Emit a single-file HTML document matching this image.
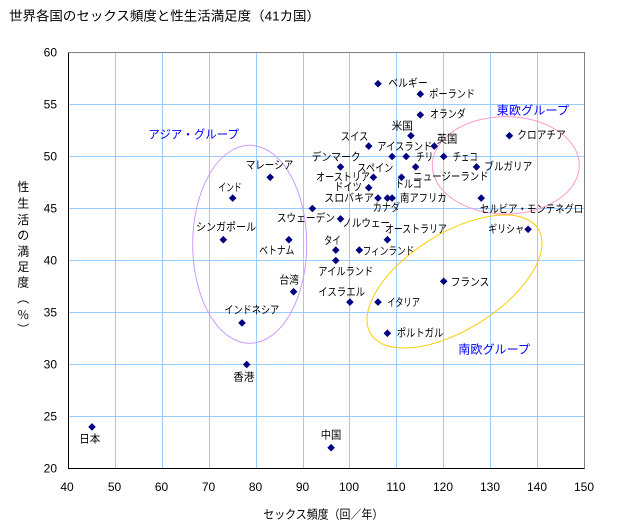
<!DOCTYPE html>
<html><head><meta charset="utf-8"><style>
html,body{margin:0;padding:0;background:#fff;}
svg{display:block;}
text{font-family:"Liberation Sans","Noto Sans CJK JP",sans-serif;fill:#000;}
.l{font-size:11px;}
.g{font-size:12px;fill:#0000FF;}
.t{font-size:12px;}
</style></head><body>
<svg width="621" height="532" viewBox="0 0 621 532" xmlns="http://www.w3.org/2000/svg">
<rect width="621" height="532" fill="#fff"/>
<!-- grid -->
<g stroke="#99CCFF" stroke-width="1" fill="none">
<path d="M115.5 52.5V468.5M162.5 52.5V468.5M209.5 52.5V468.5M256.5 52.5V468.5M303.5 52.5V468.5M349.5 52.5V468.5M396.5 52.5V468.5M443.5 52.5V468.5M490.5 52.5V468.5M537.5 52.5V468.5"/>
<path d="M68.5 104.5H584.5M68.5 156.5H584.5M68.5 208.5H584.5M68.5 260.5H584.5M68.5 312.5H584.5M68.5 364.5H584.5M68.5 416.5H584.5"/>
</g>
<path d="M68.5 52.5H584.5V468.5" stroke="#808080" fill="none"/>
<path d="M68.5 52.5V468.5H584.5" stroke="#000" fill="none"/>
<!-- ellipses -->
<ellipse cx="249.7" cy="244.3" rx="57" ry="99" fill="none" stroke="#CC99FF" stroke-width="1"/>
<ellipse cx="505.8" cy="165.3" rx="73.5" ry="48.7" fill="none" stroke="#FF99CC" stroke-width="1"/>
<ellipse cx="454.5" cy="281.5" rx="98.8" ry="48.2" transform="rotate(-32.1 454.5 281.5)" fill="none" stroke="#FFCC00" stroke-width="1"/>
<!-- title -->
<text x="9" y="20.5" style="font-size:13px" textLength="311" lengthAdjust="spacingAndGlyphs">世界各国のセックス頻度と性生活満足度（41カ国）</text>
<!-- y ticks -->
<g class="t" text-anchor="end">
<text x="57" y="56.5">60</text>
<text x="57" y="108.5">55</text>
<text x="57" y="160.5">50</text>
<text x="57" y="212.5">45</text>
<text x="57" y="264.5">40</text>
<text x="57" y="316.5">35</text>
<text x="57" y="368.5">30</text>
<text x="57" y="420.5">25</text>
<text x="57" y="472.5">20</text>
</g>
<!-- x ticks -->
<g class="t" text-anchor="middle">
<text x="67" y="491">40</text>
<text x="114.5" y="491">50</text>
<text x="161.5" y="491">60</text>
<text x="208.5" y="491">70</text>
<text x="255.5" y="491">80</text>
<text x="302.5" y="491">90</text>
<text x="349" y="491">100</text>
<text x="396" y="491">110</text>
<text x="443" y="491">120</text>
<text x="490" y="491">130</text>
<text x="537" y="491">140</text>
<text x="584" y="491">150</text>
</g>
<!-- axis titles -->
<text x="263.3" y="518.5" style="font-size:12px" textLength="120" lengthAdjust="spacingAndGlyphs">セックス頻度（回／年）</text>
<g style="font-size:12px" text-anchor="middle">
<text x="23.3" y="191">性</text>
<text x="23.3" y="207.5">生</text>
<text x="23.3" y="224">活</text>
<text x="23.3" y="239.5">の</text>
<text x="23.3" y="255.5">満</text>
<text x="23.3" y="271">足</text>
<text x="23.3" y="286.5">度</text>
<text x="23.3" y="302.5">︵</text>
<text x="23.3" y="319">％</text>
<text x="23.3" y="333.5">︶</text>
</g>
<!-- group labels -->
<text class="g" x="148.3" y="138.5" textLength="90.7" lengthAdjust="spacingAndGlyphs">アジア・グループ</text>
<text class="g" x="496.7" y="114.5" textLength="72.3" lengthAdjust="spacingAndGlyphs">東欧グループ</text>
<text class="g" x="458.3" y="353.5" textLength="71.7" lengthAdjust="spacingAndGlyphs">南欧グループ</text>
<!-- markers -->
<g fill="#000080">
<path d="M0-3.8L3.8 0 0 3.8-3.8 0z" transform="translate(92,426.9)"/>
<path d="M0-3.8L3.8 0 0 3.8-3.8 0z" transform="translate(246.7,364.5)"/>
<path d="M0-3.8L3.8 0 0 3.8-3.8 0z" transform="translate(331.1,447.7)"/>
<path d="M0-3.8L3.8 0 0 3.8-3.8 0z" transform="translate(232.7,198.1)"/>
<path d="M0-3.8L3.8 0 0 3.8-3.8 0z" transform="translate(223.3,239.7)"/>
<path d="M0-3.8L3.8 0 0 3.8-3.8 0z" transform="translate(288.9,239.7)"/>
<path d="M0-3.8L3.8 0 0 3.8-3.8 0z" transform="translate(293.6,291.7)"/>
<path d="M0-3.8L3.8 0 0 3.8-3.8 0z" transform="translate(242,322.9)"/>
<path d="M0-3.8L3.8 0 0 3.8-3.8 0z" transform="translate(270.2,177.3)"/>
<path d="M0-3.8L3.8 0 0 3.8-3.8 0z" transform="translate(312.4,208.5)"/>
<path d="M0-3.8L3.8 0 0 3.8-3.8 0z" transform="translate(378,83.7)"/>
<path d="M0-3.8L3.8 0 0 3.8-3.8 0z" transform="translate(420.3,94.1)"/>
<path d="M0-3.8L3.8 0 0 3.8-3.8 0z" transform="translate(420.3,114.9)"/>
<path d="M0-3.8L3.8 0 0 3.8-3.8 0z" transform="translate(410.9,135.7)"/>
<path d="M0-3.8L3.8 0 0 3.8-3.8 0z" transform="translate(434.3,146.1)"/>
<path d="M0-3.8L3.8 0 0 3.8-3.8 0z" transform="translate(368.7,146.1)"/>
<path d="M0-3.8L3.8 0 0 3.8-3.8 0z" transform="translate(509.4,135.7)"/>
<path d="M0-3.8L3.8 0 0 3.8-3.8 0z" transform="translate(392.1,156.5)"/>
<path d="M0-3.8L3.8 0 0 3.8-3.8 0z" transform="translate(406.2,156.5)"/>
<path d="M0-3.8L3.8 0 0 3.8-3.8 0z" transform="translate(443.7,156.5)"/>
<path d="M0-3.8L3.8 0 0 3.8-3.8 0z" transform="translate(340.5,166.9)"/>
<path d="M0-3.8L3.8 0 0 3.8-3.8 0z" transform="translate(415.6,166.9)"/>
<path d="M0-3.8L3.8 0 0 3.8-3.8 0z" transform="translate(476.5,166.9)"/>
<path d="M0-3.8L3.8 0 0 3.8-3.8 0z" transform="translate(373.4,177.3)"/>
<path d="M0-3.8L3.8 0 0 3.8-3.8 0z" transform="translate(401.5,177.3)"/>
<path d="M0-3.8L3.8 0 0 3.8-3.8 0z" transform="translate(368.7,187.7)"/>
<path d="M0-3.8L3.8 0 0 3.8-3.8 0z" transform="translate(378,198.1)"/>
<path d="M0-3.8L3.8 0 0 3.8-3.8 0z" transform="translate(387.4,198.1)"/>
<path d="M0-3.8L3.8 0 0 3.8-3.8 0z" transform="translate(392.1,198.1)"/>
<path d="M0-3.8L3.8 0 0 3.8-3.8 0z" transform="translate(481.2,198.1)"/>
<path d="M0-3.8L3.8 0 0 3.8-3.8 0z" transform="translate(340.5,218.9)"/>
<path d="M0-3.8L3.8 0 0 3.8-3.8 0z" transform="translate(528.1,229.3)"/>
<path d="M0-3.8L3.8 0 0 3.8-3.8 0z" transform="translate(387.4,239.7)"/>
<path d="M0-3.8L3.8 0 0 3.8-3.8 0z" transform="translate(335.8,250.1)"/>
<path d="M0-3.8L3.8 0 0 3.8-3.8 0z" transform="translate(359.3,250.1)"/>
<path d="M0-3.8L3.8 0 0 3.8-3.8 0z" transform="translate(335.8,260.5)"/>
<path d="M0-3.8L3.8 0 0 3.8-3.8 0z" transform="translate(349.9,302.1)"/>
<path d="M0-3.8L3.8 0 0 3.8-3.8 0z" transform="translate(378,302.1)"/>
<path d="M0-3.8L3.8 0 0 3.8-3.8 0z" transform="translate(443.7,281.3)"/>
<path d="M0-3.8L3.8 0 0 3.8-3.8 0z" transform="translate(387.4,333.3)"/>
</g>
<!-- point labels -->
<g class="l">
<text x="245.7" y="168.3" textLength="47.6" lengthAdjust="spacingAndGlyphs">マレーシア</text>
<text x="218.3" y="191" textLength="23.4" lengthAdjust="spacingAndGlyphs">インド</text>
<text x="196" y="230.7" textLength="60" lengthAdjust="spacingAndGlyphs">シンガポール</text>
<text x="276.7" y="221.7" textLength="58.3" lengthAdjust="spacingAndGlyphs">スウェーデン</text>
<text x="259.3" y="254" textLength="35" lengthAdjust="spacingAndGlyphs">ベトナム</text>
<text x="279.3" y="283.3" textLength="19.7" lengthAdjust="spacingAndGlyphs">台湾</text>
<text x="224.3" y="313.3" textLength="55" lengthAdjust="spacingAndGlyphs">インドネシア</text>
<text x="233.3" y="380.7" textLength="21" lengthAdjust="spacingAndGlyphs">香港</text>
<text x="79.3" y="442.7" textLength="21" lengthAdjust="spacingAndGlyphs">日本</text>
<text x="320.7" y="438.7" textLength="20.6" lengthAdjust="spacingAndGlyphs">中国</text>
<text x="388.3" y="86.7" textLength="39.4" lengthAdjust="spacingAndGlyphs">ベルギー</text>
<text x="429.3" y="97.7" textLength="45.7" lengthAdjust="spacingAndGlyphs">ポーランド</text>
<text x="430" y="117.3" textLength="35.7" lengthAdjust="spacingAndGlyphs">オランダ</text>
<text x="391.7" y="129.7" textLength="21" lengthAdjust="spacingAndGlyphs">米国</text>
<text x="436.7" y="142.3" textLength="20.6" lengthAdjust="spacingAndGlyphs">英国</text>
<text x="517.3" y="138.3" textLength="48.4" lengthAdjust="spacingAndGlyphs">クロアチア</text>
<text x="340.7" y="140" textLength="27.6" lengthAdjust="spacingAndGlyphs">スイス</text>
<text x="377.3" y="150" textLength="55" lengthAdjust="spacingAndGlyphs">アイスランド</text>
<text x="311.7" y="160.3" textLength="49" lengthAdjust="spacingAndGlyphs">デンマーク</text>
<text x="416" y="160.3" textLength="17.3" lengthAdjust="spacingAndGlyphs">チリ</text>
<text x="452.7" y="160.3" textLength="25" lengthAdjust="spacingAndGlyphs">チェコ</text>
<text x="357.3" y="171.3" textLength="36" lengthAdjust="spacingAndGlyphs">スペイン</text>
<text x="484.3" y="170" textLength="48" lengthAdjust="spacingAndGlyphs">ブルガリア</text>
<text x="316" y="180.7" textLength="54" lengthAdjust="spacingAndGlyphs">オーストリア</text>
<text x="413.3" y="180" textLength="75.4" lengthAdjust="spacingAndGlyphs">ニュージーランド</text>
<text x="334.3" y="190.7" textLength="27.4" lengthAdjust="spacingAndGlyphs">ドイツ</text>
<text x="395" y="187.3" textLength="26.7" lengthAdjust="spacingAndGlyphs">トルコ</text>
<text x="324.3" y="201.7" textLength="49.7" lengthAdjust="spacingAndGlyphs">スロバキア</text>
<text x="400" y="201.7" textLength="46.7" lengthAdjust="spacingAndGlyphs">南アフリカ</text>
<text x="372.7" y="211" textLength="27.3" lengthAdjust="spacingAndGlyphs">カナダ</text>
<text x="480" y="212.3" textLength="103.3" lengthAdjust="spacingAndGlyphs">セルビア・モンテネグロ</text>
<text x="342.3" y="226.3" textLength="47.7" lengthAdjust="spacingAndGlyphs">ノルウェー</text>
<text x="385" y="232.3" textLength="61.7" lengthAdjust="spacingAndGlyphs">オーストラリア</text>
<text x="488.3" y="232.3" textLength="35.7" lengthAdjust="spacingAndGlyphs">ギリシャ</text>
<text x="324" y="244" textLength="16.7" lengthAdjust="spacingAndGlyphs">タイ</text>
<text x="362.7" y="254.3" textLength="51.6" lengthAdjust="spacingAndGlyphs">フィンランド</text>
<text x="318.3" y="275" textLength="55" lengthAdjust="spacingAndGlyphs">アイルランド</text>
<text x="450.7" y="285.3" textLength="38.6" lengthAdjust="spacingAndGlyphs">フランス</text>
<text x="318.3" y="295.7" textLength="46.7" lengthAdjust="spacingAndGlyphs">イスラエル</text>
<text x="387.3" y="306" textLength="32.7" lengthAdjust="spacingAndGlyphs">イタリア</text>
<text x="396.7" y="336.3" textLength="46.6" lengthAdjust="spacingAndGlyphs">ポルトガル</text>
</g>
</svg>
</body></html>
